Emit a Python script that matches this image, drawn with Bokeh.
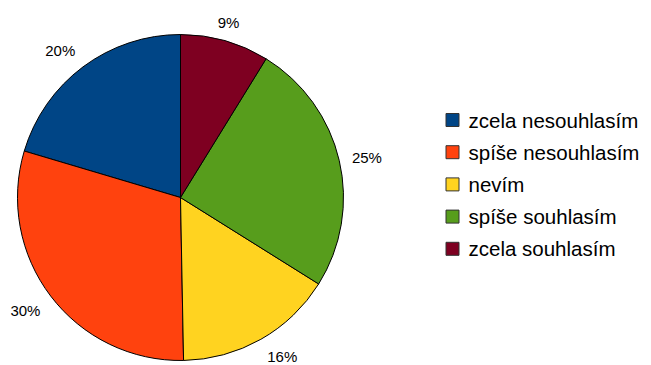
import math
from bokeh.plotting import figure
from bokeh.models import ColumnDataSource
from bokeh.core.properties import value
from bokeh.embed import file_html
from bokeh.resources import INLINE

categories = ["zcela nesouhlasím", "spíše nesouhlasím", "nevím", "spíše souhlasím", "zcela souhlasím"]
values = [20.4, 29.9, 15.8, 25.1, 8.8]
colors = ["#004586", "#ff420e", "#ffd320", "#579d1c", "#7e0021"]

W, H = 651, 365
cx, cy, r = 180, H - 197, 163

total = sum(values)
starts, ends, lx, ly, labels, aligns = [], [], [], [], [], []
a = math.pi / 2
for v in values:
    span = v / total * 2 * math.pi
    starts.append(a)
    ends.append(a + span)
    mid = a + span / 2
    c, s = math.cos(mid), math.sin(mid)
    ax = cx + 176 * c
    ay = cy + 176 * s
    if c > 0.3:
        aligns.append("left")
    elif c < -0.3:
        aligns.append("right")
    else:
        aligns.append("center")
    if s > 0.3:
        ay += 6
    elif s < -0.3:
        ay -= 6
    lx.append(ax)
    ly.append(ay)
    labels.append(f"{round(v / total * 100)}%")
    a += span

src = ColumnDataSource(dict(start=starts, end=ends, color=colors, cat=categories))
lsrc = ColumnDataSource(dict(x=lx, y=ly, text=labels, align=aligns))

p = figure(width=W, height=H, x_range=(0, W), y_range=(0, H),
           output_backend="svg", toolbar_location=None, min_border=0,
           outline_line_color=None, background_fill_color="white")
p.axis.visible = False
p.grid.visible = False

p.wedge(x=cx, y=cy, radius=r, start_angle="start", end_angle="end",
        fill_color="color", line_color="black", line_width=1, source=src)

p.text(x="x", y="y", text="text", text_align="align", text_baseline="middle",
       text_font=value("Liberation Sans"), text_font_size="15px",
       text_color="#000000", source=lsrc)

# legend
leg_y = [H - (119.5 + 32.2 * i) for i in range(len(categories))]
p.rect(x=[452] * len(categories), y=leg_y, width=13, height=13,
       fill_color=colors, line_color="#333333", line_width=1)
p.text(x=[468] * len(categories), y=leg_y, text=categories, text_align="left",
       text_baseline="middle", text_font=value("Liberation Sans"),
       text_font_size="20.5px", text_color="#000000")

open("out.html", "w").write(file_html(p, INLINE))
